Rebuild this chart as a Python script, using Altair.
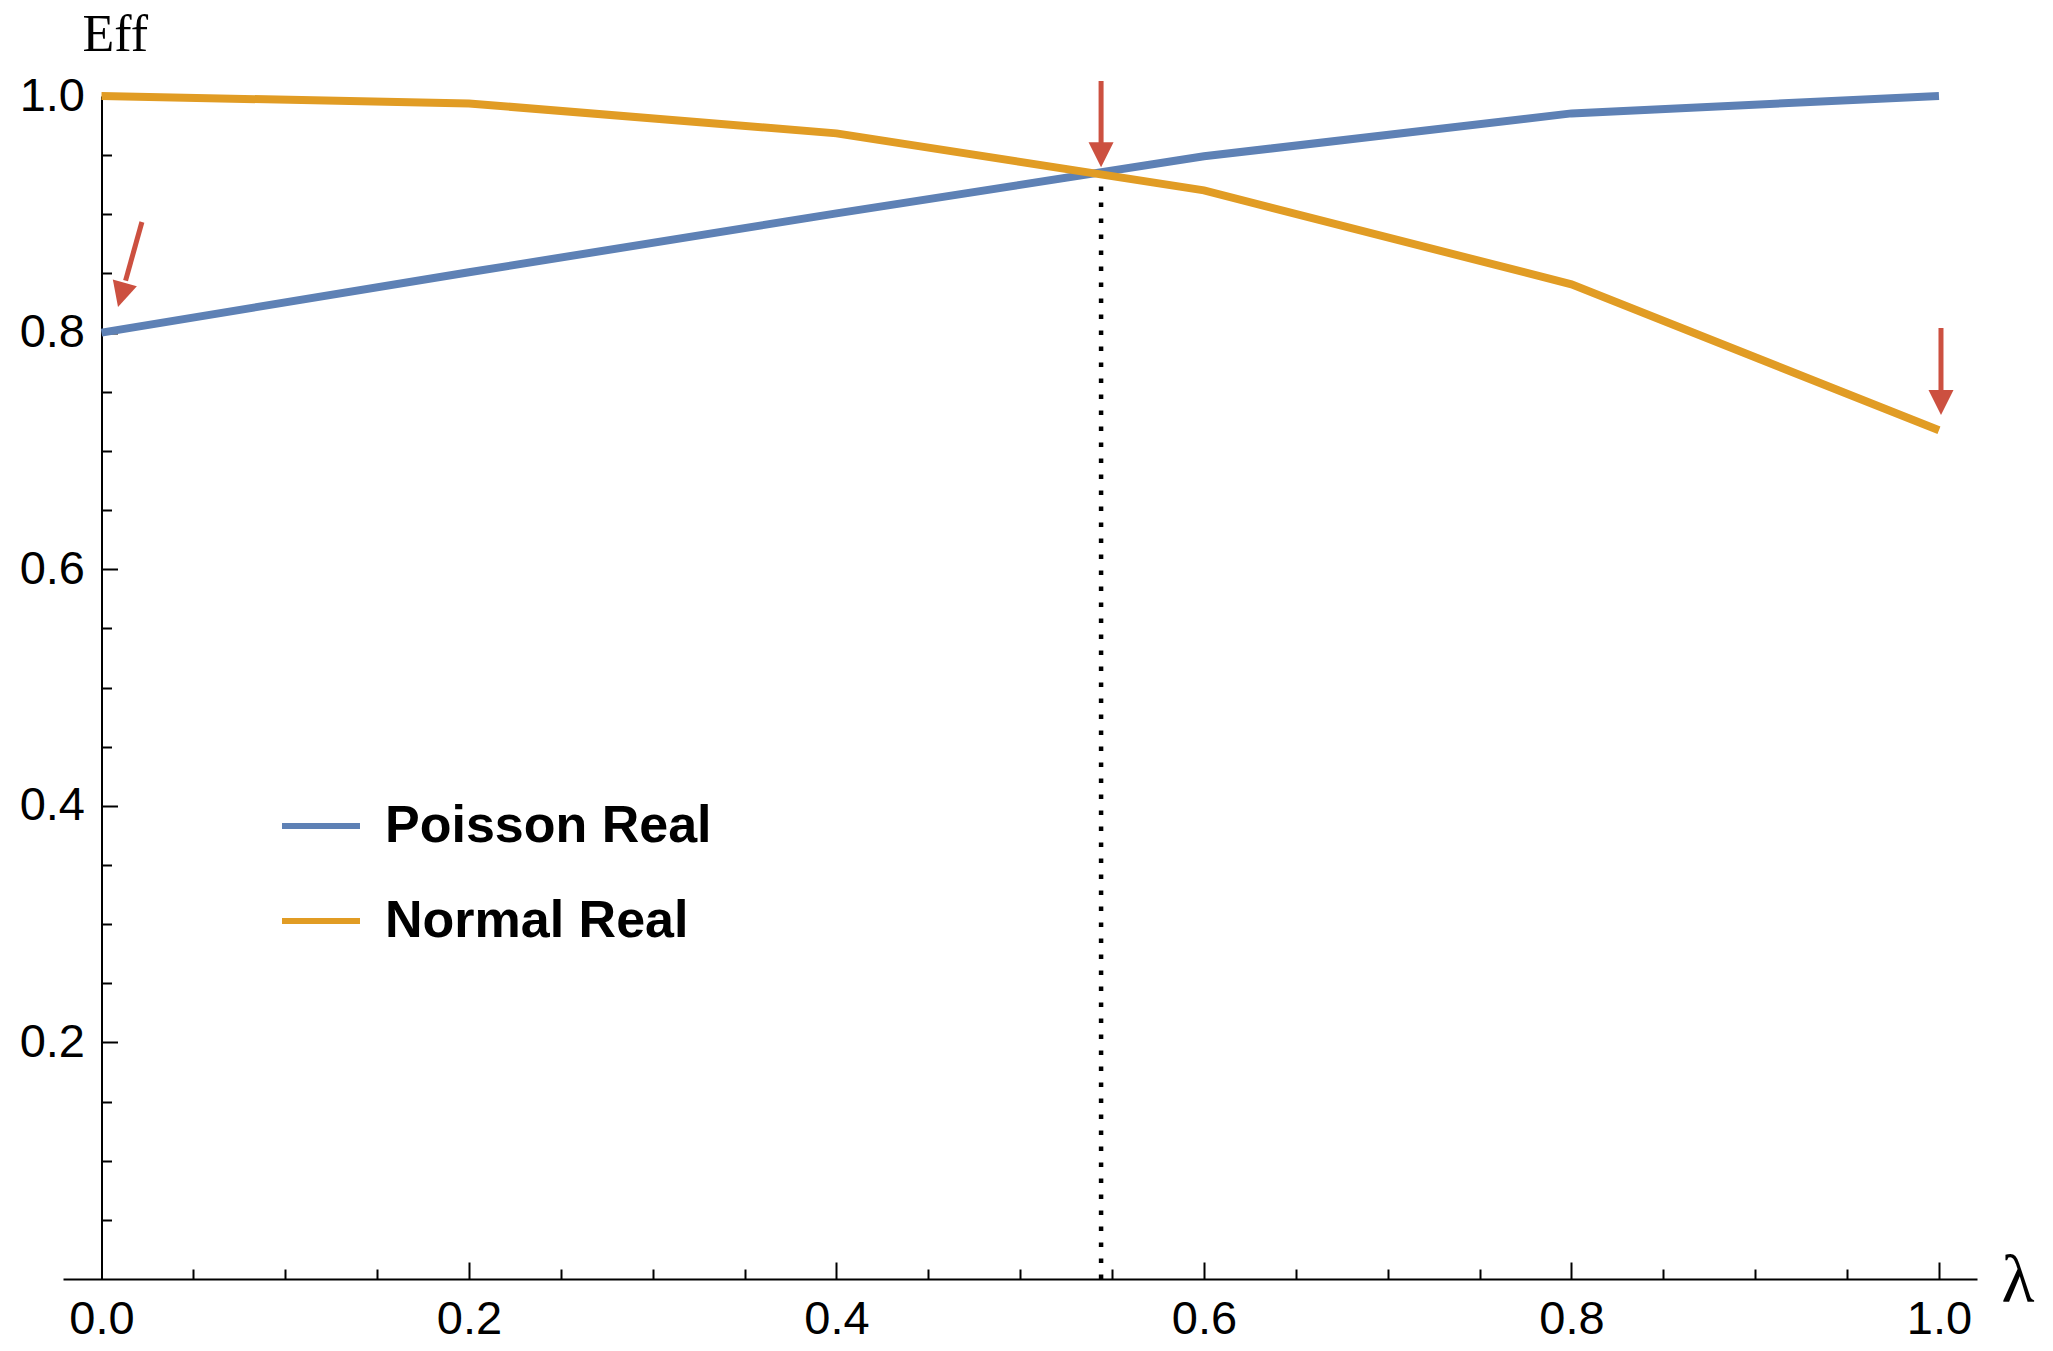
import altair as alt
import pandas as pd

# ---- data ----
lam = [0.0, 0.2, 0.4, 0.6, 0.8, 1.0]
poisson_real = [0.800, 0.851, 0.9008, 0.949, 0.9853, 1.000]
normal_real = [1.000, 0.9937, 0.9684, 0.9202, 0.8408, 0.7174]
series_names = ["Poisson Real", "Normal Real"]
series_colors = ["#5E81B5", "#E19C24"]

x_label_values = [0.0, 0.2, 0.4, 0.6, 0.8, 1.0]
y_label_values = [0.2, 0.4, 0.6, 0.8, 1.0]
x_tick_values = [0.05, 0.1, 0.15, 0.2, 0.25, 0.3, 0.35, 0.4, 0.45, 0.5,
                 0.55, 0.6, 0.65, 0.7, 0.75, 0.8, 0.85, 0.9, 0.95, 1.0]
y_tick_values = [0.05, 0.1, 0.15, 0.2, 0.25, 0.3, 0.35, 0.4, 0.45, 0.5,
                 0.55, 0.6, 0.65, 0.7, 0.75, 0.8, 0.85, 0.9, 0.95, 1.0]

# crossing marker (dotted vertical line)
cross_lam = [0.544]
cross_base = [0.0]
cross_eff = [0.934]

# red annotation arrows: start of shaft, base of head, tip, head rotation
arrow_x_start = [0.0220, 0.544, 1.0011]
arrow_y_start = [0.8935, 1.0127, 0.8039]
arrow_x_base = [0.0131, 0.544, 1.0011]
arrow_y_base = [0.8440, 0.9590, 0.7494]
arrow_x_tip = [0.0090, 0.544, 1.0011]
arrow_y_tip = [0.8217, 0.9397, 0.7303]
arrow_angle = [15.8, 0.0, 0.0]
arrow_color = "#CC5040"

W, H = 1914, 1183
Y_AXIS_AT = 38.5  # pixel position of lambda = 0 inside the plot

# ---- tables ----
df_p = pd.DataFrame({"lam": lam, "eff": poisson_real, "series": series_names[0]})
df_n = pd.DataFrame({"lam": lam, "eff": normal_real, "series": series_names[1]})
df_cross = pd.DataFrame({"lam": cross_lam, "y0": cross_base, "eff": cross_eff})
df_arrow = pd.DataFrame({
    "xs": arrow_x_start, "ys": arrow_y_start,
    "xb": arrow_x_base, "yb": arrow_y_base,
    "xt": arrow_x_tip, "yt": arrow_y_tip,
    "ang": arrow_angle,
})

xscale = alt.Scale(domain=[-0.02095, 1.0207], nice=False, zero=False)
yscale = alt.Scale(domain=[0.0, 1.0], nice=False, zero=False)

major_test = "abs(datum.value*5 - round(datum.value*5)) < 0.001"

x_label_axis = alt.Axis(
    orient="bottom", values=x_label_values, format=".1f", ticks=False, tickSize=0,
    domain=True, domainColor="black", domainWidth=2, grid=False,
    labelFont="Liberation Sans", labelFontSize=47, labelColor="black",
    labelPadding=17, labelFlush=False, labelOverlap=False,
    title="λ", titleFont="Liberation Serif", titleFontSize=68,
    titleFontWeight="normal", titleColor="black", titleAngle=0,
    titleAlign="left", titleBaseline="alphabetic", titleX=1938, titleY=22,
)
x_tick_axis = alt.Axis(
    orient="top", offset=-H, values=x_tick_values, labels=False, domain=False,
    ticks=True, tickColor="black", tickWidth=2, grid=False, title=None,
    tickSize={"condition": {"test": major_test, "value": 17}, "value": 10},
)
y_label_axis = alt.Axis(
    orient="left", offset=-Y_AXIS_AT, values=y_label_values, format=".1f",
    ticks=False, tickSize=0, domain=True, domainColor="black", domainWidth=2,
    grid=False, labelFont="Liberation Sans", labelFontSize=47, labelColor="black",
    labelPadding=17, labelFlush=False, labelOverlap=False,
    title="Eff", titleFont="Liberation Serif", titleFontSize=52,
    titleFontWeight="normal", titleColor="black", titleAngle=0,
    titleAlign="left", titleBaseline="alphabetic", titleX=-19.5, titleY=-46,
)
y_tick_axis = alt.Axis(
    orient="right", offset=-(W - Y_AXIS_AT), values=y_tick_values, labels=False,
    domain=False, ticks=True, tickColor="black", tickWidth=2, grid=False, title=None,
    tickSize={"condition": {"test": major_test, "value": 16}, "value": 10},
)

legend = alt.Legend(
    orient="none", legendX=216, legendY=688, title=None, padding=0,
    symbolType="stroke", symbolStrokeWidth=6, symbolSize=6084,
    labelFont="Liberation Sans", labelFontSize=52, labelFontWeight="bold",
    labelColor="black", labelOffset=22, labelLimit=1000, rowPadding=27,
)
color = alt.Color("series:N", scale=alt.Scale(domain=series_names, range=series_colors),
                  legend=legend)

dotted = alt.Chart(df_cross).mark_rule(
    color="black", strokeWidth=4.5, strokeDash=[4.5, 11.5], strokeCap="butt"
).encode(
    x=alt.X("lam:Q", scale=xscale, axis=None),
    y=alt.Y("y0:Q", scale=yscale, axis=None),
    y2="eff:Q",
)

line_p = alt.Chart(df_p).mark_line(strokeWidth=8).encode(
    x=alt.X("lam:Q", scale=xscale, axis=x_label_axis),
    y=alt.Y("eff:Q", scale=yscale, axis=y_label_axis),
    color=color,
)
line_n = alt.Chart(df_n).mark_line(strokeWidth=8).encode(
    x=alt.X("lam:Q", scale=xscale, axis=x_tick_axis),
    y=alt.Y("eff:Q", scale=yscale, axis=y_tick_axis),
    color=color,
)

shafts = alt.Chart(df_arrow).mark_rule(color=arrow_color, strokeWidth=5).encode(
    x=alt.X("xs:Q", scale=xscale, axis=None),
    y=alt.Y("ys:Q", scale=yscale, axis=None),
    x2="xb:Q", y2="yb:Q",
)
heads = alt.Chart(df_arrow).mark_point(
    shape="M-1,-2L1,-2L0,0Z", filled=True, size=625, color=arrow_color,
    opacity=1, strokeWidth=0,
).encode(
    x=alt.X("xt:Q", scale=xscale, axis=None),
    y=alt.Y("yt:Q", scale=yscale, axis=None),
    angle=alt.Angle("ang:Q", scale=None),
)

chart = alt.layer(dotted, line_p, line_n, shafts, heads).resolve_axis(
    x="independent", y="independent"
).properties(
    width=W, height=H,
    padding={"left": 55, "top": 88, "right": 66, "bottom": 62},
    autosize=alt.AutoSizeParams(type="none"),
    background="white",
).configure_view(stroke=None)

chart.save("out.html", embed_options={"renderer": "svg", "actions": False})
